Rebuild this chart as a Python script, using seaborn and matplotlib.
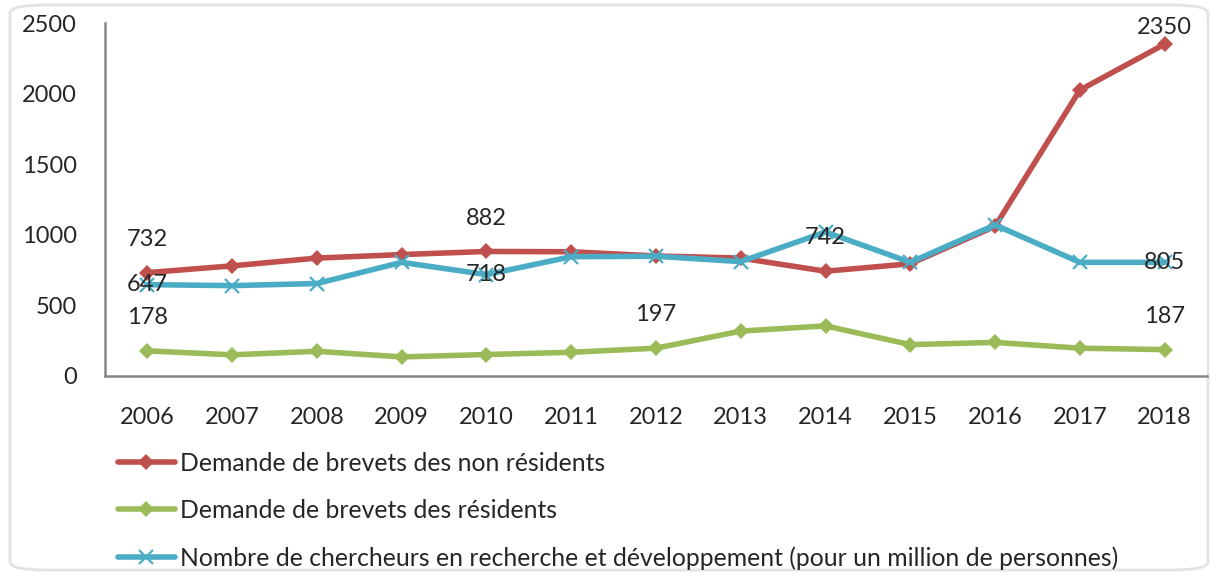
import numpy as np
import pandas as pd
import seaborn as sns
from matplotlib import pyplot as plt
from matplotlib.patches import FancyBboxPatch

# data
years = list(range(2006, 2019))
non_residents = [732, 780, 835, 860, 882, 880, 850, 835, 742, 795, 1060, 2025, 2350]
residents = [178, 150, 175, 135, 152, 168, 197, 318, 355, 222, 238, 197, 187]
researchers = [647, 640, 655, 805, 718, 845, 848, 810, 1020, 805, 1070, 805, 805]

labels = ['Demande de brevets des non résidents',
          'Demande de brevets des résidents',
          'Nombre de chercheurs en recherche et développement (pour un million de personnes)']
colors = ['#C0504D', '#9BBB59', '#4BACC6']

# which points carry a value label (index into years)
lab_non_res = [0, 4, 8, 12]
lab_res = [0, 6, 12]
lab_research = [0, 4, 12]

sns.set_theme(style='white')
plt.rcParams['font.family'] = ['Lato', 'DejaVu Sans']

fig = plt.figure(figsize=(12.15, 5.76), dpi=100)
ax = fig.add_axes([105 / 1215, 1 - 376 / 576, 1102 / 1215, 353 / 576])

# rounded frame around the chart
fig.patches.append(FancyBboxPatch((10 / 1215, 6 / 576), 1198 / 1215, 565 / 576,
                                  boxstyle='round,pad=0,rounding_size=0.03',
                                  transform=fig.transFigure, fill=False,
                                  edgecolor='#E3E3E3', linewidth=2, zorder=-1,
                                  mutation_aspect=576 / 1215))

df = pd.DataFrame({'year': years, 'nr': non_residents, 'r': residents, 'rd': researchers})

lw = 4
sns.lineplot(data=df, x='year', y='nr', ax=ax, color=colors[0], linewidth=lw,
             marker='D', markersize=8, markeredgewidth=0, label=labels[0])
sns.lineplot(data=df, x='year', y='r', ax=ax, color=colors[1], linewidth=lw,
             marker='D', markersize=8, markeredgewidth=0, label=labels[1])
sns.lineplot(data=df, x='year', y='rd', ax=ax, color=colors[2], linewidth=lw,
             marker='x', markersize=10, markeredgewidth=1.6,
             markeredgecolor=colors[2], label=labels[2])

fs = 17
for i in lab_non_res:
    # the top label is pushed down to stay inside the chart
    dy = 12 if non_residents[i] > 2300 else 24
    ax.annotate(str(non_residents[i]), (years[i], non_residents[i]), xytext=(0, dy),
                textcoords='offset points', ha='center', va='center', fontsize=fs)
for i in lab_res:
    ax.annotate(str(residents[i]), (years[i], residents[i]), xytext=(0, 24),
                textcoords='offset points', ha='center', va='center', fontsize=fs)
for i in lab_research:
    ax.annotate(str(researchers[i]), (years[i], researchers[i]), xytext=(0, 0),
                textcoords='offset points', ha='center', va='center', fontsize=fs)

ax.set_xlim(2005.5, 2018.5)
ax.set_ylim(0, 2500)
ax.set_xticks(years)
ax.set_xticklabels([str(y) for y in years])
ax.set_yticks(np.arange(0, 2501, 500))
ax.set_xlabel('')
ax.set_ylabel('')
ax.tick_params(axis='y', length=6, width=1.5, color='#868686', pad=14, labelsize=fs)
ax.tick_params(axis='x', length=0, pad=22, labelsize=fs)
for s in ['top', 'right']:
    ax.spines[s].set_visible(False)
for s in ['left', 'bottom']:
    ax.spines[s].set_color('#868686')
    ax.spines[s].set_linewidth(1.8)

handles, labs = ax.get_legend_handles_labels()
ax.get_legend().remove()
fig.legend(handles, labs, loc='upper left', bbox_to_anchor=(118 / 1215, 1 - 452 / 576),
           frameon=False, fontsize=17.8, handlelength=2.3, handletextpad=0.2,
           labelspacing=0.97, borderpad=0, borderaxespad=0)

fig.savefig('out.png', dpi=100)
